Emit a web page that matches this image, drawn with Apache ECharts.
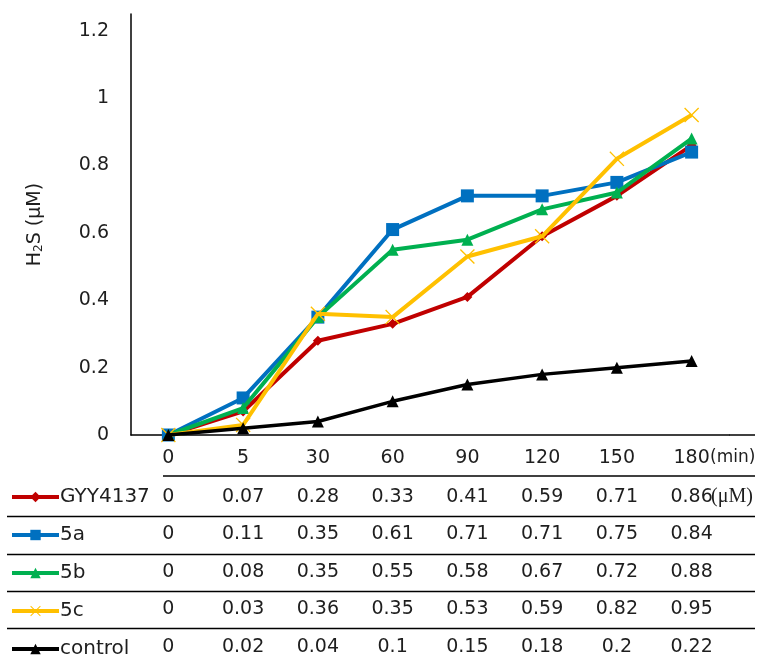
<!DOCTYPE html>
<html>
<head>
<meta charset="utf-8">
<script src="https://cdn.jsdelivr.net/npm/echarts@6/dist/echarts.min.js"></script>
<style>
html, body { margin: 0; padding: 0; background: #fff; }
#chart { width: 762px; height: 663px; }
</style>
</head>
<body>
<div id="chart"></div>
<script>
var times = ["0", "5", "30", "60", "90", "120", "150", "180"];
var seriesNames = ["GYY4137", "5a", "5b", "5c", "control"];
var gyy4137 = [0, 0.07, 0.28, 0.33, 0.41, 0.59, 0.71, 0.86];
var s5a = [0, 0.11, 0.35, 0.61, 0.71, 0.71, 0.75, 0.84];
var s5b = [0, 0.08, 0.35, 0.55, 0.58, 0.67, 0.72, 0.88];
var s5c = [0, 0.03, 0.36, 0.35, 0.53, 0.59, 0.82, 0.95];
var control = [0, 0.02, 0.04, 0.1, 0.15, 0.18, 0.2, 0.22];

(function() {
    var chart = echarts.init(document.getElementById("chart"), null, { renderer: "canvas" }),
        font = "DejaVu Sans",
        ink = "#1e1e1e",
        allData = [gyy4137, s5a, s5b, s5c, control],
        colors = ["#C00000", "#0070C0", "#00B050", "#FFC000", "#000000"],
        crossPath = "path://M0,1L1,0L8,7L15,0L16,1L9,8L16,15L15,16L8,9L1,16L0,15L7,8Z",
        symbols = ["diamond", "rect", "triangle", crossPath, "triangle"],
        sizes = [10, 13, 12, 15, 12];

    function makeSeries(i) {
        return {
            name: seriesNames[i],
            type: "line",
            data: allData[i],
            symbol: symbols[i],
            symbolSize: sizes[i],
            lineStyle: { color: colors[i], width: i === 4 ? 3.5 : 4 },
            itemStyle: { color: colors[i] },
            z: 2 + i,
            animation: false
        };
    }

    var option = {
        animation: false,
        grid: { left: 131, right: 33, top: 14, bottom: 228 },
        legend: {
            orient: "vertical",
            left: 10,
            top: 487,
            itemWidth: 47,
            itemHeight: 13,
            itemGap: 18,
            padding: 0,
            selectedMode: false,
            lineStyle: { width: 4 },
            textStyle: { fontFamily: font, fontSize: 20, color: ink, lineHeight: 20, padding: [0, 0, 0, -4] },
            data: seriesNames
        },
        xAxis: {
            type: "category",
            data: times,
            boundaryGap: true,
            axisLine: { lineStyle: { color: "#000", width: 1.5 } },
            axisTick: { show: false },
            axisLabel: { fontFamily: font, fontSize: 19, color: ink, margin: 14 }
        },
        yAxis: {
            type: "value",
            min: 0,
            max: 1.25,
            interval: 0.2,
            name: "H{sub|2}S (μM)",
            nameLocation: "middle",
            nameGap: 86,
            nameRotate: 90,
            nameTextStyle: {
                fontFamily: font, fontSize: 19, color: ink,
                rich: { sub: { fontFamily: font, fontSize: 12, color: ink, verticalAlign: "bottom", padding: [8, 0, 0, 0] } }
            },
            splitLine: { show: false },
            axisLine: { show: true, lineStyle: { color: "#000", width: 1.5 } },
            axisTick: { show: false },
            axisLabel: { fontFamily: font, fontSize: 19, color: ink, margin: 22, showMaxLabel: false }
        },
        series: seriesNames.map(function(n, i) { return makeSeries(i); })
    };

    chart.setOption(option);

    // data table under the axis, built from the same arrays
    var rowY = [497, 534.5, 572, 609.5, 647],
        lineY = [516.5, 554.5, 591.5, 628.5],
        xs = times.map(function(t, i) { return chart.convertToPixel({ xAxisIndex: 0 }, i); }),
        gridRight = xs[xs.length - 1] + (xs[1] - xs[0]) / 2,
        graphics = [];

    graphics.push({ type: "line", shape: { x1: gridRight, y1: 435, x2: 755, y2: 435 }, style: { stroke: "#000", lineWidth: 1.5 } });
    graphics.push({ type: "line", shape: { x1: 163, y1: 476, x2: 755, y2: 476 }, style: { stroke: "#000", lineWidth: 1.5 } });
    lineY.forEach(function(y) {
        graphics.push({ type: "line", shape: { x1: 7, y1: y, x2: 755, y2: y }, style: { stroke: "#000", lineWidth: 1.5 } });
    });
    graphics.push({
        type: "text", x: 710, y: 458,
        style: { text: "(min)", font: "17px " + font, fill: ink, textAlign: "left", textVerticalAlign: "middle" }
    });
    allData.forEach(function(arr, r) {
        arr.forEach(function(v, c) {
            graphics.push({
                type: "text", x: xs[c], y: rowY[r],
                style: { text: String(v), font: "19px " + font, fill: ink, textAlign: "center", textVerticalAlign: "middle" }
            });
        });
    });
    graphics.push({
        type: "text", x: 711, y: rowY[0],
        style: { text: "(μM)", font: "20px 'Liberation Serif'", fill: ink, textAlign: "left", textVerticalAlign: "middle" }
    });

    chart.setOption({ graphic: graphics });
}());
</script>
</body>
</html>
